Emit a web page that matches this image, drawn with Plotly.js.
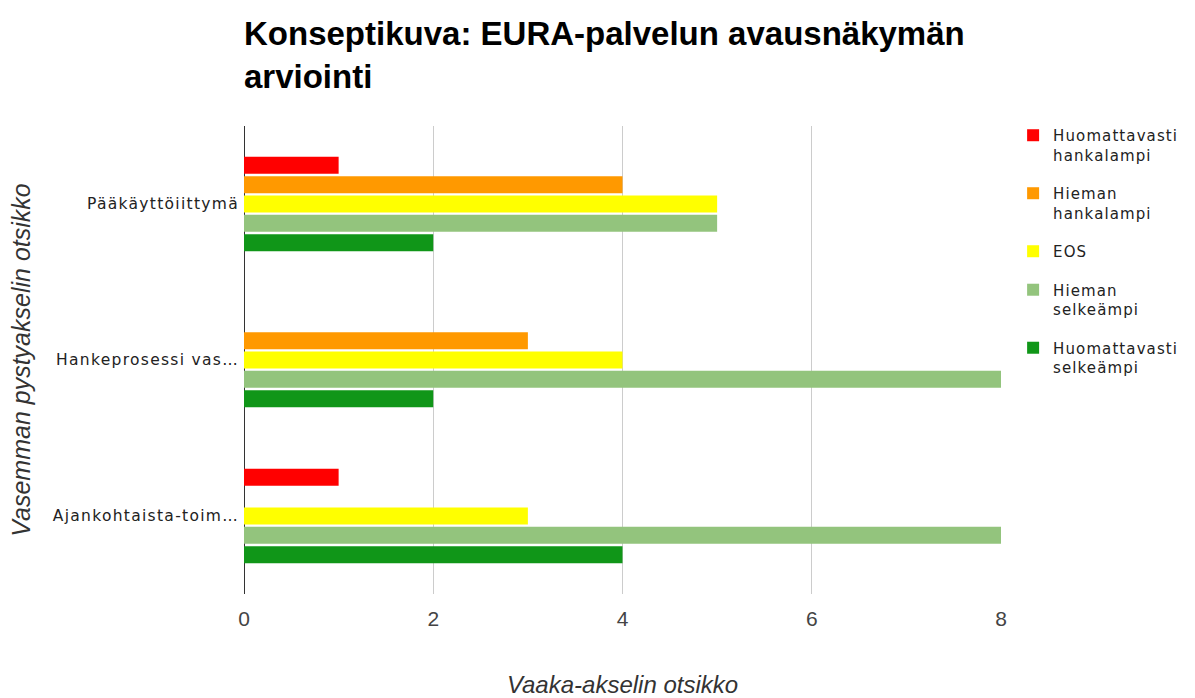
<!DOCTYPE html>
<html>
<head>
<meta charset="utf-8">
<script src="https://cdn.plot.ly/plotly-3.0.1.min.js"></script>
<style>
html,body{margin:0;padding:0;background:#fff;}
#chart{width:1195px;height:698px;}
.ytick text { letter-spacing: 1.3px; }
.legendtext { letter-spacing: 1.1px; }
</style>
</head>
<body>
<div id="chart"></div>
<script>
const categories = ["Pääkäyttöiittymä", "Hankeprosessi vas…", "Ajankohtaista-toim…"];
const seriesNames = ["Huomattavasti<br>hankalampi", "Hieman<br>hankalampi", "EOS", "Hieman<br>selkeämpi", "Huomattavasti<br>selkeämpi"];
const huomattavastiHankalampi = [1, 0, 1];
const hiemanHankalampi = [4, 3, 0];
const eos = [5, 4, 3];
const hiemanSelkeampi = [5, 8, 8];
const huomattavastiSelkeampi = [2, 2, 4];
const colors = ["#ff0000", "#ff9900", "#ffff00", "#93c47d", "#109618"];
const xTicks = [0, 2, 4, 6, 8];

const seriesValues = [huomattavastiHankalampi, hiemanHankalampi, eos, hiemanSelkeampi, huomattavastiSelkeampi];

const traces = seriesValues.map((vals, i) => ({
  type: 'bar',
  orientation: 'h',
  name: seriesNames[i],
  x: vals,
  y: categories,
  legendgroup: 'g' + i,
  marker: {color: colors[i], line: {width: 0}}
}));

const layout = {
  width: 1195,
  height: 698,
  paper_bgcolor: '#ffffff',
  plot_bgcolor: '#ffffff',
  margin: {l: 244, r: 191, t: 126, b: 104},
  barmode: 'group',
  bargap: 0.38,
  bargroupgap: 0.12,
  title: {
    text: 'Konseptikuva: EURA-palvelun avausnäkymän<br>arviointi',
    font: {family: 'Liberation Sans, Arial, sans-serif', size: 33, color: '#000', weight: 'bold'},
    x: 0, xref: 'paper', xanchor: 'left',
    y: 1 - 45/698, yref: 'container', yanchor: 'top'
  },
  xaxis: {
    range: [0, 8],
    tickvals: xTicks,
    ticktext: xTicks.map(String),
    showgrid: true,
    gridcolor: '#cccccc',
    gridwidth: 1,
    zeroline: true,
    zerolinecolor: '#333333',
    zerolinewidth: 1,
    showline: false,
    ticks: '',
    ticklabelstandoff: 10,
    tickfont: {family: 'Liberation Sans Narrow, Liberation Sans, Arial, sans-serif', size: 21, color: '#444'},
    title: {
      text: 'Vaaka-akselin otsikko',
      font: {family: 'Liberation Sans, Arial, sans-serif', size: 24, color: '#333', style: 'italic'},
      standoff: 54
    },
    fixedrange: true
  },
  yaxis: {
    type: 'category',
    autorange: 'reversed',
    showgrid: false,
    zeroline: false,
    showline: false,
    ticks: '',
    ticklabelstandoff: 4,
    tickfont: {family: 'DejaVu Sans, sans-serif', size: 15.5, color: '#222'},
    title: {
      text: 'Vasemman pystyakselin otsikko',
      font: {family: 'Liberation Sans, Arial, sans-serif', size: 25, color: '#333', style: 'italic'},
      standoff: 14
    },
    fixedrange: true
  },
  showlegend: true,
  legend: {
    x: 1.016, xanchor: 'left',
    y: 1.015, yanchor: 'top',
    font: {family: 'DejaVu Sans, sans-serif', size: 15, color: '#222'},
    tracegroupgap: 16,
    traceorder: 'grouped',
    valign: 'top',
    bgcolor: 'rgba(0,0,0,0)'
  }
};

Plotly.newPlot('chart', traces, layout, {displayModeBar: false, staticPlot: true});
</script>
</body>
</html>
